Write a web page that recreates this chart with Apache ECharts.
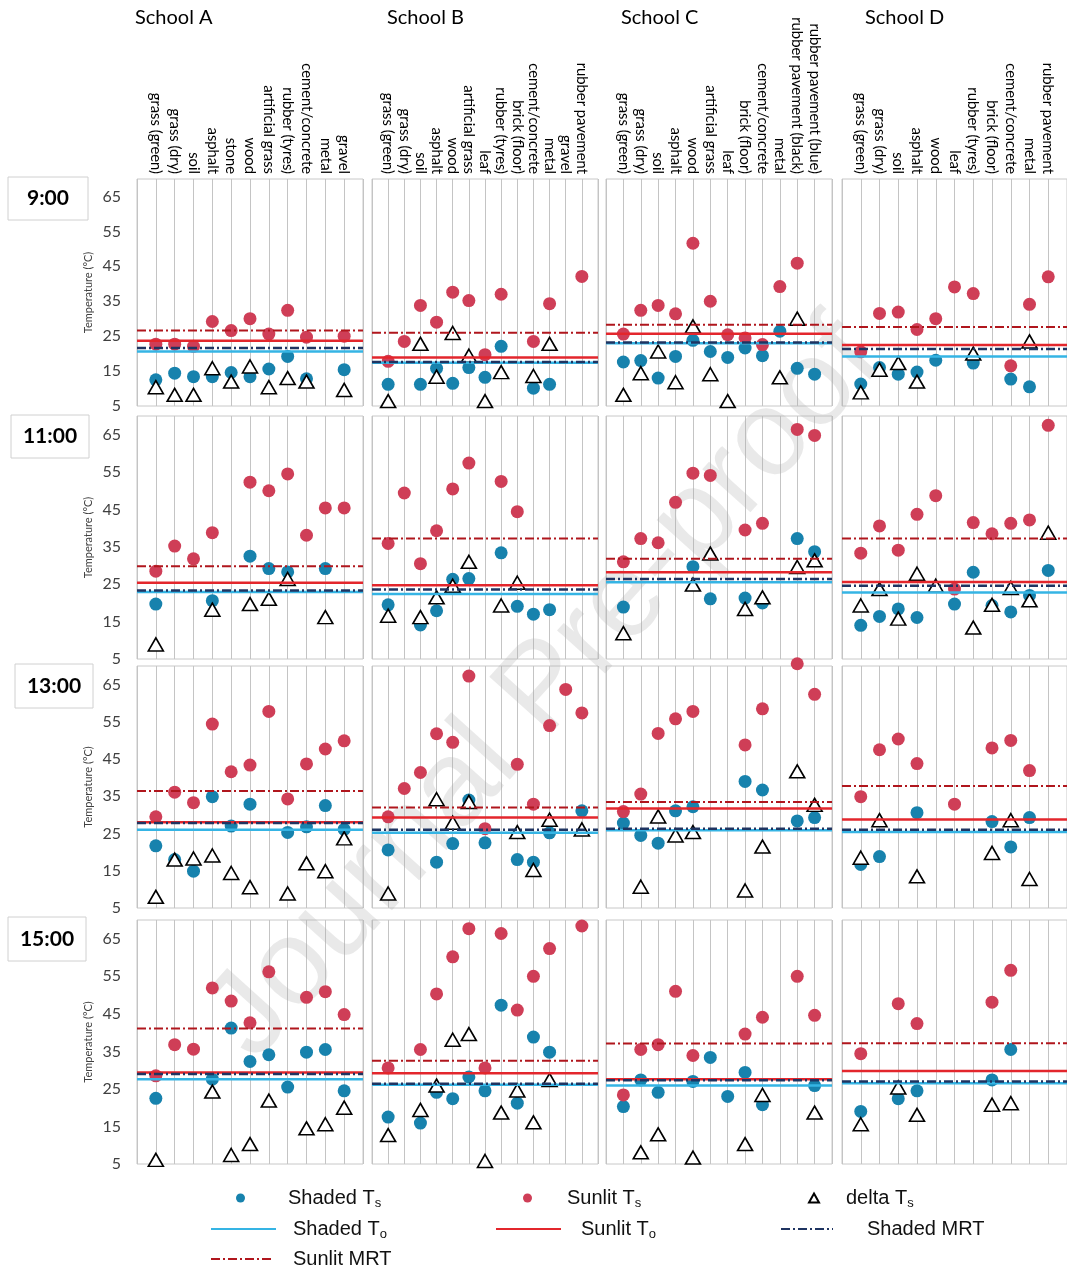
<!DOCTYPE html>
<html><head><meta charset="utf-8">
<script src="https://cdn.jsdelivr.net/npm/echarts@6/dist/echarts.min.js"></script>
<style>html,body{margin:0;padding:0;background:#fff}#c{width:1067px;height:1271px}</style>
</head><body><div id="c"></div>
<script>
// ---------- DATA ----------
const times = ['9:00', '11:00', '13:00', '15:00'];
const schools = ['School A', 'School B', 'School C', 'School D'];
const yTicks = [5, 15, 25, 35, 45, 55, 65];

const catsA = ['grass (green)', 'grass (dry)', 'soil', 'asphalt', 'stone', 'wood', 'artificial grass', 'rubber (tyres)', 'cement/concrete', 'metal', 'gravel'];
const catsB = ['grass (green)', 'grass (dry)', 'soil', 'asphalt', 'wood', 'artificial grass', 'leaf', 'rubber (tyres)', 'brick (floor)', 'cement/concrete', 'metal', 'gravel', 'rubber pavement'];
const catsC = ['grass (green)', 'grass (dry)', 'soil', 'asphalt', 'wood', 'artificial grass', 'leaf', 'brick (floor)', 'cement/concrete', 'metal', 'rubber pavement (black)', 'rubber pavement (blue)'];
const catsD = ['grass (green)', 'grass (dry)', 'soil', 'asphalt', 'wood', 'leaf', 'rubber (tyres)', 'brick (floor)', 'cement/concrete', 'metal', 'rubber pavement'];

// rows: 9:00, 11:00, 13:00, 15:00
const shadedTs_A = [
  [12.5, 14.4, 13.4, 13.4, 14.6, 13.4, 15.6, 19.2, 12.8, null, 15.4],
  [19.7, null, null, 20.6, null, 32.5, 29.2, 28.3, null, 29.2, null],
  [21.7, 18.0, 14.9, 34.9, 27.0, 32.9, null, 25.3, 26.8, 32.5, 26.1],
  [22.5, null, null, 27.6, 41.2, 32.3, 34.1, 25.5, 34.8, 35.5, 24.5]
];
const sunlitTs_A = [
  [22.7, 22.7, 22.1, 29.2, 26.6, 30.0, 25.6, 32.4, 24.7, null, 25.0],
  [28.5, 35.2, 31.8, 38.8, null, 52.3, 50.0, 54.5, 38.1, 45.4, 45.4],
  [29.5, 36.1, 33.3, 54.4, 41.6, 43.4, 57.8, 34.3, 43.7, 47.7, 49.9],
  [28.5, 36.8, 35.6, 51.9, 48.4, 42.6, 56.2, null, 49.4, 50.9, 44.8]
];
const deltaTs_A = [
  [10.4, 8.2, 8.2, 15.8, 12.0, 16.3, 10.4, 13.0, 12.0, null, 9.6],
  [8.9, null, null, 18.2, null, 19.7, 21.1, 26.4, null, 16.2, null],
  [8.0, 18.0, 18.3, 19.1, 14.4, 10.6, null, 8.9, 17.0, 14.9, 23.7],
  [6.1, null, null, 24.3, 7.4, 10.3, 21.9, null, 14.5, 15.6, 20.0]
];

const shadedTs_B = [
  [11.2, null, 11.2, 15.8, 11.5, 16.0, 13.2, 22.1, null, 10.1, 11.2, null, null],
  [19.5, null, 14.1, 17.9, 26.3, 26.5, null, 33.4, 19.1, 17.0, 18.2, null, null],
  [20.6, null, null, 17.3, 22.3, 34.0, 22.5, null, 18.0, 17.3, 25.2, null, 31.1],
  [17.5, null, 15.9, 24.1, 22.4, 28.2, 24.5, 47.3, 21.2, 38.8, 34.8, null, null]
];
const sunlitTs_B = [
  [17.8, 23.5, 33.8, 29.0, 37.6, 35.2, 19.7, 37.0, null, 23.5, 34.3, null, 42.1],
  [35.9, 49.4, 30.5, 39.3, 50.5, 57.4, null, 52.5, 44.4, null, null, null, null],
  [29.5, 37.1, 41.4, 51.8, 49.5, 67.3, 26.3, null, 43.6, 32.9, 54.0, 63.7, 57.4],
  [30.6, null, 35.5, 50.3, 60.2, 67.7, 30.6, 66.4, 46.0, 55.0, 62.4, null, 68.4]
];
const deltaTs_B = [
  [6.4, null, 22.8, 13.4, 25.9, 19.4, 6.4, 14.7, null, 13.6, 22.8, null, null],
  [16.6, null, 16.2, 21.5, 24.6, 31.0, null, 19.3, 25.4, null, null, null, null],
  [8.9, null, null, 34.2, 27.9, 33.5, null, null, 25.4, 15.2, 28.7, null, 26.1],
  [12.7, null, 19.4, 25.9, 38.1, 39.6, 5.8, 18.7, 24.6, 16.1, 27.4, null, null]
];

const shadedTs_C = [
  [17.6, 18.0, 13.0, 19.2, 23.8, 20.6, 18.9, 21.6, 19.4, 26.4, 15.8, 14.1],
  [18.9, null, null, null, 29.7, 21.1, null, 21.3, 20.0, null, 37.2, 33.7],
  [27.8, 24.5, 22.4, 31.1, 32.2, null, null, 39.0, 36.7, null, 28.4, 29.3],
  [20.3, 27.4, 24.1, null, 27.0, 33.4, 23.0, 29.4, 20.8, null, null, 25.9]
];
const sunlitTs_C = [
  [25.6, 32.4, 33.8, 31.4, 51.6, 35.0, 25.4, 24.5, 22.6, 39.2, 45.9, null],
  [31.0, 37.2, 36.1, 46.9, 54.7, 54.1, null, 39.5, 41.3, null, 66.4, 64.8],
  [30.9, 35.6, 51.9, 55.8, 57.8, null, null, 48.8, 58.5, null, 70.6, 62.4],
  [23.4, 35.5, 36.8, 51.0, 33.9, null, null, 39.6, 44.1, null, 55.0, 44.6]
];
const deltaTs_C = [
  [8.2, 14.4, 20.6, 11.8, 27.8, 14.1, 6.4, null, null, 13.2, 30.0, null],
  [11.9, null, null, null, 24.9, 33.2, null, 18.4, 21.5, null, 29.6, 31.4],
  [null, 10.7, 29.6, 24.5, 25.4, null, null, 9.7, 21.5, null, 41.7, 32.7],
  [null, 8.1, 12.9, null, 6.7, null, null, 10.3, 23.4, null, null, 18.7]
];

const shadedTs_D = [
  [11.3, 16.0, 14.1, 14.7, 18.1, null, 17.3, null, 12.7, 10.5, null],
  [14.0, 16.4, 18.4, 16.1, null, 19.7, 28.2, 19.3, 17.6, 22.0, 28.7],
  [16.7, 18.8, null, 30.6, null, null, null, 28.2, 21.4, 29.3, null],
  [19.0, null, 22.4, 24.5, null, null, null, 27.4, 35.5, null, null]
];
const sunlitTs_D = [
  [20.5, 31.5, 31.9, 26.9, 30.0, 39.1, 37.2, null, 16.5, 34.1, 42.0],
  [33.3, 40.6, 34.1, 43.7, 48.7, 23.7, 41.5, 38.5, 41.3, 42.2, 67.5],
  [34.9, 47.5, 50.4, 43.8, null, 32.9, null, 48.0, 50.0, 41.9, null],
  [34.4, null, 47.7, 42.4, null, null, null, 48.1, 56.6, null, null]
];
const deltaTs_D = [
  [8.9, 15.4, 17.3, 12.0, null, null, 20.0, null, null, 23.5, null],
  [19.3, 23.7, 15.8, 27.8, 24.6, null, 13.4, 19.5, 24.0, 20.7, 38.8],
  [18.5, 28.6, null, 13.5, null, null, null, 19.8, 28.6, 12.8, null],
  [15.6, null, 25.4, 18.1, null, null, null, 20.8, 21.2, null, null]
];

// reference lines, rows = times, columns = schools A..D
const shadedTo  = [[20.6, 17.4, 23.0, 19.2], [22.9, 22.4, 25.5, 22.8], [26.0, 25.2, 25.9, 25.4], [27.6, 26.1, 25.9, 26.5]];
const sunlitTo  = [[23.7, 18.9, 25.7, 22.5], [25.4, 24.7, 28.2, 25.6], [28.0, 29.3, 31.7, 28.8], [29.4, 29.2, 27.6, 29.8]];
const shadedMRT = [[21.6, 17.6, 23.2, 21.3], [23.3, 23.6, 26.4, 24.6], [27.8, 26.0, 26.3, 26.0], [29.0, 26.4, 27.3, 27.0]];
const sunlitMRT = [[26.6, 26.0, 28.3, 27.6], [29.8, 37.2, 31.8, 37.2], [36.4, 32.0, 33.5, 37.8], [41.1, 32.5, 37.1, 37.2]];

// ---------- BUILD ----------
const cats = [catsA, catsB, catsC, catsD];
const shadedTs = [shadedTs_A, shadedTs_B, shadedTs_C, shadedTs_D];
const sunlitTs = [sunlitTs_A, sunlitTs_B, sunlitTs_C, sunlitTs_D];
const deltaTs = [deltaTs_A, deltaTs_B, deltaTs_C, deltaTs_D];

const FONT = 'Lato';
const COL = {
  shadedTs: '#1782ad', sunlitTs: '#cf3e57',
  shadedTo: '#35b4e4', sunlitTo: '#e3262c',
  shadedMRT: '#1f3461', sunlitMRT: '#b0161d'
};
const colL = [137, 372, 606, 842];
const colW = 226;
const rowT = [179, 416, 666, 920];
const rowH = [227, 243, 242, 244];

const grids = [], xAxes = [], yAxes = [], series = [];
const pts = (arr) => arr.map((v, i) => [i + 1, v]).filter(p => p[1] != null);

for (let r = 0; r < 4; r++) {
  for (let c = 0; c < 4; c++) {
    const idx = r * 4 + c;
    const n = cats[c].length;
    grids.push({left: colL[c], top: rowT[r], width: colW, height: rowH[r], show: true,
      borderColor: '#c8c8c8', borderWidth: 1, backgroundColor: 'transparent'});
    xAxes.push({gridIndex: idx, type: 'value', min: 0, max: n + 1, interval: 1, position: 'top',
      axisLine: {show: false}, axisTick: {show: false},
      splitLine: {show: true, lineStyle: {color: '#c4c4c4', width: 1}},
      axisLabel: {show: r === 0, rotate: 90, margin: 5, fontFamily: FONT, fontSize: 14.8, color: '#000',
        formatter: (v) => cats[c][v - 1] || ''}});
    yAxes.push({gridIndex: idx, type: 'value', min: 5, max: 70,
      axisLine: {show: false}, axisTick: {show: false}, splitLine: {show: false},
      axisLabel: {show: c === 0, customValues: yTicks, margin: 16, fontFamily: FONT, fontSize: 16, color: '#404040'},
      name: c === 0 ? 'Temperature (°C)' : '', nameLocation: 'middle', nameGap: 43,
      nameTextStyle: {fontFamily: FONT, fontSize: 11, color: '#404040'}});
    const lineDefs = [
      ['Shaded To', shadedTo[r][c], COL.shadedTo, 'solid', 2.5],
      ['Sunlit To', sunlitTo[r][c], COL.sunlitTo, 'solid', 2.5],
      ['Sunlit MRT', sunlitMRT[r][c], COL.sunlitMRT, [9, 3, 2, 3], 2],
      ['Shaded MRT', shadedMRT[r][c], COL.shadedMRT, [9, 3, 2, 3], 2.5]
    ];
    lineDefs.forEach(([name, v, color, type, w]) => {
      series.push({type: 'line', name, xAxisIndex: idx, yAxisIndex: idx,
        data: [[0, v], [n + 1, v]], symbol: 'none', silent: true,
        lineStyle: {color, width: w, type}, itemStyle: {color}});
    });
    series.push({type: 'scatter', name: 'Shaded Ts', xAxisIndex: idx, yAxisIndex: idx, clip: false,
      data: pts(shadedTs[c][r]), symbol: 'circle', symbolSize: 13, itemStyle: {color: COL.shadedTs, opacity: 1}});
    series.push({type: 'scatter', name: 'Sunlit Ts', xAxisIndex: idx, yAxisIndex: idx, clip: false,
      data: pts(sunlitTs[c][r]), symbol: 'circle', symbolSize: 13, itemStyle: {color: COL.sunlitTs, opacity: 1}});
    series.push({type: 'scatter', name: 'delta Ts', xAxisIndex: idx, yAxisIndex: idx, clip: false,
      data: pts(deltaTs[c][r]), symbol: 'triangle', symbolSize: [15, 13],
      itemStyle: {color: '#fff', borderColor: '#000', borderWidth: 1.6, opacity: 1}});
  }
}

const legRich = {
  m: {fontFamily: 'Liberation Sans', fontSize: 20, color: '#111', lineHeight: 24},
  s: {fontFamily: 'Liberation Sans', fontSize: 13, color: '#111', lineHeight: 22, verticalAlign: 'bottom'}
};
function legendItem(name, left, y, w, h, gap, isLine) {
  const rich = Object.assign({sp: {width: gap, height: 1}}, legRich);
  const item = {data: [name], left, top: y - 12, padding: 0, itemWidth: w, itemHeight: h, selectedMode: false,
    textStyle: {rich},
    formatter: (nm) => {
      const last = nm.slice(-1);
      if (nm.endsWith('Ts') || nm.endsWith('To')) return '{sp|}{m|' + nm.slice(0, -1) + '}{s|' + last + '}';
      return '{sp|}{m|' + nm + '}';
    }};
  if (isLine) item.itemStyle = {opacity: 0};
  return item;
}
const legends = [
  legendItem('Shaded Ts', 236, 1200, 9, 9, 38, false),
  legendItem('Sunlit Ts', 523, 1200, 9, 9, 30, false),
  legendItem('delta Ts', 808, 1200, 10, 9, 22, false),
  legendItem('Shaded To', 210, 1231, 65, 14, 12, true),
  legendItem('Sunlit To', 495, 1231, 65, 14, 15, true),
  legendItem('Shaded MRT', 780, 1231, 52, 14, 29, true),
  legendItem('Sunlit MRT', 210, 1261, 62, 14, 15, true)
];

const titles = [
  {text: schools[0], left: 135, top: 8},
  {text: schools[1], left: 387, top: 8},
  {text: schools[2], left: 621, top: 8},
  {text: schools[3], left: 865, top: 8}
].map(t => Object.assign(t, {padding: 0, textStyle: {fontFamily: FONT, fontSize: 20, fontWeight: 'normal', color: '#000'}}));

const boxes = [[8, 177, 80, 43], [11, 415, 78, 43], [15, 664, 78, 44], [8, 917, 78, 44]];
const graphics = [];
boxes.forEach((b, i) => {
  graphics.push({type: 'rect', shape: {x: b[0], y: b[1], width: b[2], height: b[3]},
    style: {fill: '#fff', stroke: '#d0d0d0', lineWidth: 1}, z: 10});
  graphics.push({type: 'text', x: b[0] + b[2] / 2, y: b[1] + b[3] / 2,
    style: {text: times[i], fontFamily: FONT, fontSize: 21, fontWeight: 'bold', fill: '#000',
      textAlign: 'center', textVerticalAlign: 'middle'}, z: 11});
});
graphics.push({type: 'text', x: 545, y: 690, rotation: 48 * Math.PI / 180, z: 1, silent: true,
  style: {text: 'Journal Pre-proof', fontFamily: 'Liberation Sans', fontSize: 122,
    fill: 'rgba(170,170,170,0.26)', textAlign: 'center', textVerticalAlign: 'middle'}});

const chart = echarts.init(document.getElementById('c'), null, {renderer: 'canvas'});
chart.setOption({
  animation: false,
  backgroundColor: '#fff',
  title: titles,
  legend: legends,
  grid: grids,
  xAxis: xAxes,
  yAxis: yAxes,
  series,
  graphic: graphics
});
</script></body></html>
